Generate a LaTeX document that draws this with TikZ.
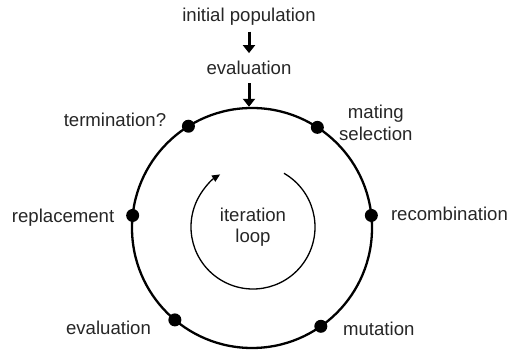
\documentclass[tikz,border=0pt]{standalone}
\usepackage{fontspec}
\setmainfont{Liberation Sans}
\usetikzlibrary{arrows.meta,positioning}

\begin{document}
\begin{tikzpicture}[x=1pt,y=1pt,
    lbl/.style={inner sep=0pt,outer sep=0pt,text=black!85,align=center,
      font=\fontsize{18.6}{21.5}\selectfont},
    ring/.style={draw,circle,line width=2.3pt,inner sep=0pt,outer sep=0pt,
      minimum size=240pt},
    dot/.style={circle,fill=black,inner sep=0pt,minimum size=13pt},
    bigarrow/.style={line width=3pt,-{Triangle[width=12pt,length=8pt]}}]
    %% Evolutionary cycle

    % Parameters
    \def\r{62}

    \useasboundingbox (0,0) rectangle (513,352);

    % Start
    \node[lbl,anchor=base] (init) at (249,330) {initial population};
    \node[lbl,anchor=base] (eval) at (249,277) {evaluation};

    % Cycle
    \node[ring] (ring) at (252,124) {};
    \coordinate (hub) at (253,125);

    % Steps on the cycle
    \node[dot] (dMate) at (ring.57) {};
    \node[dot] (dRec) at (ring.6) {};
    \node[dot] (dMut) at (ring.305) {};
    \node[dot] (dEval) at (ring.230) {};
    \node[dot] (dRep) at (ring.174) {};
    \node[dot] (dTerm) at (ring.122) {};

    % Arrows into the cycle
    \draw[bigarrow,shorten <=5.8pt,shorten >=8.4pt]
    (init.south) -- (eval.north);

    \draw[bigarrow,shorten <=8.3pt,shorten >=1.2pt]
    (eval.south) -- (eval.south |- ring.north);

    % Iteration loop
    \draw[line width=1.3pt,-{Triangle[width=7pt,length=8pt]}]
    ([shift={(60:\r)}]hub) arc[start angle=60,end angle=-238,radius=\r];

    \node[lbl] (loop) at (hub) {iteration\\loop};

    % Labels
    \node[lbl,above right=4.6pt and 21.8pt of dMate.center,anchor=west]
    (lMate) {mating\\selection};
    \node[lbl,below right=5pt and 19.7pt of dRec.center,anchor=base west]
    (lRec) {recombination};
    \node[lbl,below right=9pt and 22.3pt of dMut.center,anchor=base west]
    (lMut) {mutation};
    \node[lbl,below left=14.7pt and 24pt of dEval.center,anchor=base east]
    (lEval) {evaluation};
    \node[lbl,below left=6.7pt and 18.4pt of dRep.center,anchor=base east]
    (lRep) {replacement};
    \node[lbl,below left=0.6pt and 22.3pt of dTerm.center,anchor=base east]
    (lTerm) {termination?};

\end{tikzpicture}
\end{document}
